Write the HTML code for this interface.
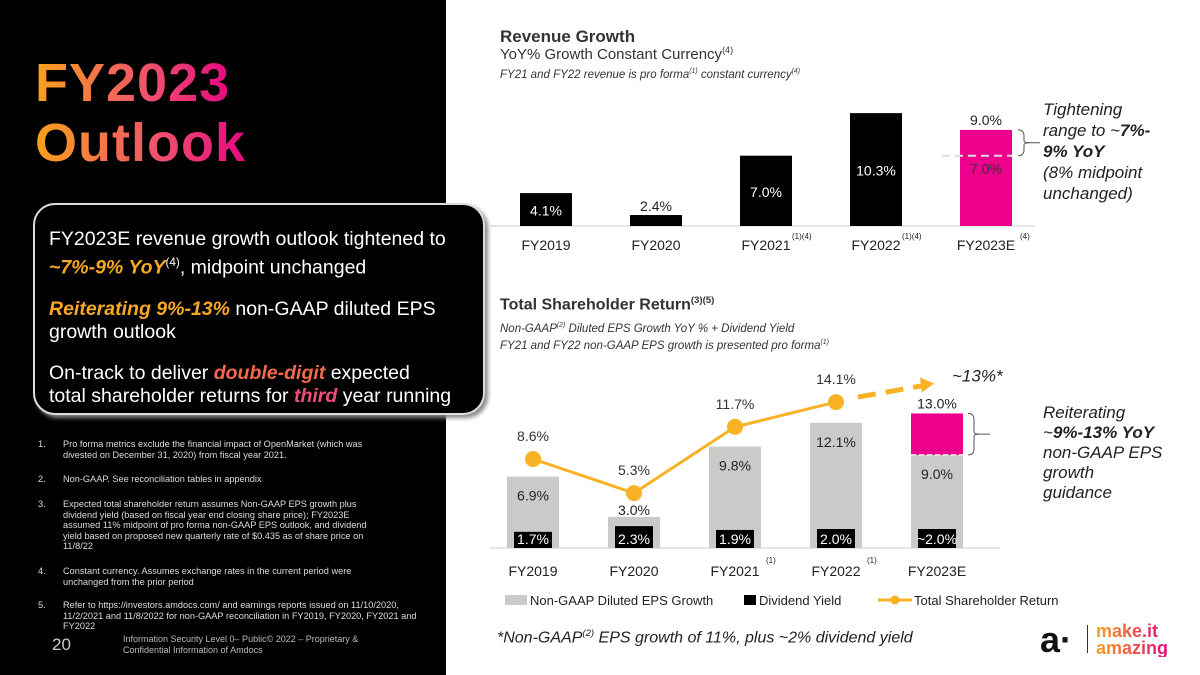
<!DOCTYPE html>
<html><head><meta charset="utf-8"><style>
*{margin:0;padding:0;box-sizing:border-box}
body{width:1200px;height:675px;overflow:hidden;background:#fff;font-family:"Liberation Sans",sans-serif;position:relative;color:#222}
.abs{position:absolute;white-space:nowrap}
#left{position:absolute;left:0;top:0;width:446px;height:675px;background:#000}
.big{font-size:54px;font-weight:bold;background:linear-gradient(90deg,#f9a21b,#ef4f6f 60%,#e5097f);-webkit-background-clip:text;background-clip:text;color:transparent;letter-spacing:1px}
#box{position:absolute;left:33px;top:203px;width:452px;height:212px;background:#000;border:2px solid #ddd;border-radius:22px;box-shadow:3px 3px 4px #888;color:#fff;font-size:19.5px;padding:23px 0 0 14px;line-height:23px}
#box p{margin-bottom:18px}
.y{color:#f7a823;font-weight:bold;font-style:italic}
.o{color:#f26a4b;font-weight:bold;font-style:italic}
.p{color:#ee4f78;font-weight:bold;font-style:italic}
.fn{position:absolute;left:38px;color:#ddd;font-size:9.2px;line-height:10.5px;width:420px}
.fn span{position:absolute;left:0}
.fn div{margin-left:25px}
sup{font-size:60%}
.it{font-style:italic}
svg text{font-family:"Liberation Sans",sans-serif}
</style></head><body>
<div id="left"></div>
<div class="abs big" style="left:35px;top:52px">FY2023</div>
<div class="abs big" style="left:35px;top:112px">Outlook</div>
<div id="box">
<p>FY2023E revenue growth outlook tightened to<br><span class="y">~7%-9% YoY</span><sup>(4)</sup>, midpoint unchanged</p>
<p><span class="y">Reiterating 9%-13%</span> non-GAAP diluted EPS<br>growth outlook</p>
<p>On-track to deliver <span class="o">double-digit</span> expected<br>total shareholder returns for <span class="p">third</span> year running</p>
</div>
<div>
<div class="fn" style="top:439px"><span>1.</span><div>Pro forma metrics exclude the financial impact of OpenMarket (which was<br>divested on December 31, 2020) from fiscal year 2021.</div></div>
<div class="fn" style="top:474px"><span>2.</span><div>Non-GAAP. See reconciliation tables in appendix</div></div>
<div class="fn" style="top:499px"><span>3.</span><div>Expected total shareholder return assumes Non-GAAP EPS growth plus<br>dividend yield (based on fiscal year end closing share price); FY2023E<br>assumed 11% midpoint of pro forma non-GAAP EPS outlook, and dividend<br>yield based on proposed new quarterly rate of $0.435 as of share price on<br>11/8/22</div></div>
<div class="fn" style="top:566px"><span>4.</span><div>Constant currency. Assumes exchange rates in the current period were<br>unchanged from the prior period</div></div>
<div class="fn" style="top:600px"><span>5.</span><div>Refer to https://investors.amdocs.com/ and earnings reports issued on 11/10/2020,<br>11/2/2021 and 11/8/2022 for non-GAAP reconciliation in FY2019, FY2020, FY2021 and<br>FY2022</div></div>
</div>
<div class="abs" style="left:52px;top:635px;color:#ccc;font-size:17px">20</div>
<div class="abs" style="left:123px;top:634px;color:#bbb;font-size:9px;line-height:11px">Information Security Level 0– Public© 2022 – Proprietary &amp;<br>Confidential Information of Amdocs</div>

<div class="abs" style="left:500px;top:27px;font-size:17px;font-weight:bold;color:#333">Revenue Growth</div>
<div class="abs" style="left:500px;top:45px;font-size:15px;color:#333">YoY% Growth Constant Currency<sup>(4)</sup></div>
<div class="abs it" style="left:500px;top:68px;font-size:11.5px;color:#333">FY21 and FY22 revenue is pro forma<sup>(1)</sup> constant currency<sup>(4)</sup></div>
<div class="abs it" style="left:1043px;top:99px;font-size:17px;line-height:21px;color:#222">Tightening<br>range to ~<b>7%-</b><br><b>9% YoY</b><br>(8% midpoint<br>unchanged)</div>

<div class="abs" style="left:500px;top:295px;font-size:16px;font-weight:bold;color:#333">Total Shareholder Return<sup>(3)(5)</sup></div>
<div class="abs it" style="left:500px;top:322px;font-size:11.5px;color:#333">Non-GAAP<sup>(2)</sup> Diluted EPS Growth YoY % + Dividend Yield</div>
<div class="abs it" style="left:500px;top:339px;font-size:11.5px;color:#333">FY21 and FY22 non-GAAP EPS growth is presented pro forma<sup>(1)</sup></div>
<div class="abs it" style="left:1043px;top:403px;font-size:17px;line-height:20px;color:#222">Reiterating<br>~<b>9%-13% YoY</b><br>non-GAAP EPS<br>growth<br>guidance</div>
<div class="abs it" style="left:497px;top:628px;font-size:16px;color:#222">*Non-GAAP<sup>(2)</sup> EPS growth of 11%, plus ~2% dividend yield</div>

<div class="abs" style="left:1040px;top:622px;font-size:36px;font-weight:bold;color:#111;line-height:36px">a·</div>
<div class="abs" style="left:1087px;top:625px;width:1px;height:28px;background:#333"></div>
<div class="abs" style="left:1096px;top:623px;font-size:18px;font-weight:bold;line-height:17px;background:linear-gradient(90deg,#f9a21b,#e5097f);-webkit-background-clip:text;background-clip:text;color:transparent">make.it<br>amazing</div>

<svg id="chart" width="1200" height="675" style="position:absolute;left:0;top:0"></svg>
<script>
const revCats=["FY2019","FY2020","FY2021","FY2022","FY2023E"];
const revSup=["","","(1)(4)","(1)(4)","(4)"];
const revVals=[4.1,2.4,7.0,10.3,9.0];
const revLow=7.0;
const epsCats=["FY2019","FY2020","FY2021","FY2022","FY2023E"];
const epsSup=["","","(1)","(1)",""];
const epsVals=[6.9,3.0,9.8,12.1,9.0];
const epsHigh=13.0;
const divVals=[1.7,2.3,1.9,2.0,2.0];
const divLabels=["1.7%","2.3%","1.9%","2.0%","~2.0%"];
const tsrVals=[8.6,5.3,11.7,14.1];
const tsrTarget=13;

const NS="http://www.w3.org/2000/svg";
const svg=document.getElementById('chart');
function mk(t,a,txt){const e=document.createElementNS(NS,t);for(const k in a)e.setAttribute(k,a[k]);if(txt!==undefined)e.textContent=txt;svg.appendChild(e);return e;}
// revenue chart
const rBase=226,rX=i=>546+i*110,rY=v=>rBase-(v-1.55)*12.9;
mk('line',{x1:490,y1:rBase,x2:1035,y2:rBase,stroke:'#ddd','stroke-width':1.5});
revVals.forEach((v,i)=>{
  const last=i===revVals.length-1;
  const r=mk('rect',{x:rX(i)-26,y:rY(v),width:52,height:rBase-rY(v),fill:last?'#ec008c':'#000'});
  
  
  const lab=v.toFixed(1)+'%';
  let ly,col;
  if(last){ly=rY(v)-5;col='#222';}
  else if(v<3){ly=rY(v)-4;col='#222';}
  else{ly=(rY(v)+rBase)/2+6;col='#fff';}
  const t=mk('text',{x:rX(i),y:ly,'text-anchor':'middle','font-size':14,fill:col},lab);
  
  
  const c=mk('text',{x:rX(i),y:rBase+24,'text-anchor':'middle','font-size':14,fill:'#222'},revCats[i]);
  
  
  if(revSup[i])mk('text',{x:rX(i)+(last?34:26),y:rBase+13,'font-size':8,fill:'#222'},revSup[i]);
});
{const i=4;
mk('line',{x1:rX(i)-44,y1:rY(revLow),x2:rX(i)+26,y2:rY(revLow),stroke:'#ddd','stroke-width':2,'stroke-dasharray':'8,5'});
mk('text',{x:rX(i),y:rY(revLow)+18,'text-anchor':'middle','font-size':14,fill:'#333'},revLow.toFixed(1)+'%');
const x0=rX(i)+32,y1=rY(revVals[i]),y2=rY(revLow);
mk('path',{d:`M${x0},${y1} q6,0 6,6 v${(y2-y1)/2-8} q0,2 6,2 q-6,0 -6,2 v${(y2-y1)/2-8} q0,6 -6,6 M${x0+12},${(y1+y2)/2} h10`,fill:'none',stroke:'#555','stroke-width':1});}
// TSR chart
const eBase=548,eX=i=>533+i*101,eY=v=>eBase-v*10.35;
mk('line',{x1:490,y1:eBase,x2:1000,y2:eBase,stroke:'#ddd','stroke-width':1.5});
epsVals.forEach((v,i)=>{
  const r=mk('rect',{x:eX(i)-26,y:eY(v),width:52,height:eBase-eY(v),fill:'#c9cbc8'});
  
  
  const lt=mk('text',{x:eX(i),y:v<4?eY(v)-2:eY(v)+24,'text-anchor':'middle','font-size':14,fill:'#222'},v.toFixed(1)+'%');
  
  
  const dh=divVals[i]*9.5;
  const d=mk('rect',{x:eX(i)-19,y:eBase-dh,width:38,height:dh,fill:'#000'});
  
  
  mk('text',{x:eX(i),y:eBase-4,'text-anchor':'middle','font-size':14,fill:'#fff'},divLabels[i]);
  const c=mk('text',{x:eX(i),y:eBase+28,'text-anchor':'middle','font-size':14,fill:'#222'},epsCats[i]);
  
  
  if(epsSup[i])mk('text',{x:eX(i)+31,y:eBase+15,'font-size':8,fill:'#222'},epsSup[i]);
});
{const i=4;
const p=mk('rect',{x:eX(i)-26,y:eY(epsHigh),width:52,height:eY(epsVals[i])-eY(epsHigh),fill:'#ec008c'});


mk('line',{x1:eX(i)-26,y1:eY(epsVals[i]),x2:eX(i)+26,y2:eY(epsVals[i]),stroke:'#eee','stroke-width':1.5,'stroke-dasharray':'5,3'});
mk('text',{x:eX(i),y:eY(epsHigh)-5,'text-anchor':'middle','font-size':14,fill:'#222'},epsHigh.toFixed(1)+'%');
const x0=eX(i)+31,y1=eY(epsHigh),y2=eY(epsVals[i]);
mk('path',{d:`M${x0},${y1} q6,0 6,6 v${(y2-y1)/2-8} q0,2 6,2 q-6,0 -6,2 v${(y2-y1)/2-8} q0,6 -6,6 M${x0+12},${(y1+y2)/2} h10`,fill:'none',stroke:'#555','stroke-width':1});}
const pts=tsrVals.map((v,i)=>[eX(i),eY(v)]);
const ln=mk('polyline',{points:pts.map(p=>p.join(',')).join(' '),fill:'none',stroke:'#f8b224','stroke-width':3});


tsrVals.forEach((v,i)=>{
  const c=mk('circle',{cx:pts[i][0],cy:pts[i][1],r:8,fill:'#f8b224'});
  
  
  mk('text',{x:pts[i][0],y:pts[i][1]-18,'text-anchor':'middle','font-size':14,fill:'#333'},v.toFixed(1)+'%');
});
{const [x1,y1]=pts[3];const x2=eX(4)-3,y2=eY(tsrTarget)-30;
const a=mk('line',{x1:x1+22,y1:y1-5,x2:x2-10,y2:y2+2,stroke:'#f8b224','stroke-width':5,'stroke-dasharray':'18,10'});


mk('polygon',{points:`${x2},${y2} ${x2-14},${y2-6} ${x2-12},${y2+9}`,fill:'#f8b224'});
mk('text',{x:x2+18,y:y2-2,'font-size':17,'font-style':'italic',fill:'#222'},'~'+tsrTarget+'%*');}
// legend
const lg=[['Non-GAAP Diluted EPS Growth','#c9cbc8','sq',505,530,22],['Dividend Yield','#000','sq',744,759,12],['Total Shareholder Return','#f8b224','ln',878,914,0]];
lg.forEach(l=>{
  if(l[2]==='sq')mk('rect',{x:l[3],y:595,width:l[5],height:10,fill:l[1]});
  else{mk('line',{x1:l[3],y1:600,x2:l[3]+34,y2:600,stroke:l[1],'stroke-width':3});mk('circle',{cx:l[3]+17,cy:600,r:4.5,fill:l[1]});}
  const t=mk('text',{x:l[4],y:605,'font-size':13,fill:'#222'},l[0]);
  
  
});
</script>
</body></html>
